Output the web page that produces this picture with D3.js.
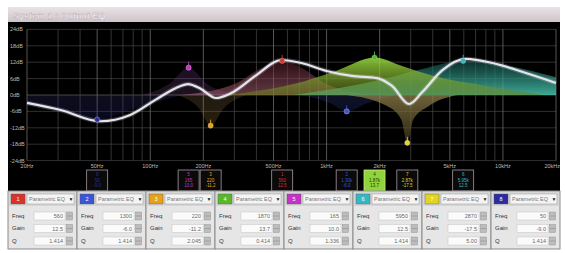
<!DOCTYPE html>
<html>
<head>
<meta charset="utf-8">
<script src="https://cdn.jsdelivr.net/npm/d3@7"></script>
<style>
  body { margin: 0; background: #fff; }
  svg { display: block; font-family: "Liberation Sans", Arial, sans-serif; }
</style>
</head>
<body>
<svg id="chart" width="565" height="253"></svg>
<script>
// ---- data ----
const title = 'System 1 : Output EQ';

const dbTicks = [24, 18, 12, 6, 0, -6, -12, -18, -24];
const freqTicks = [20, 50, 100, 200, 500, 1000, 2000, 5000, 10000, 20000];
const freqTickLabels = ['20Hz', '50Hz', '100Hz', '200Hz', '500Hz', '1kHz', '2kHz', '5kHz', '10kHz', '20kHz'];
const gridFreqs = [20, 30, 40, 50, 60, 70, 80, 90, 100, 200, 300, 400, 500, 600, 700, 800, 900,
  1000, 2000, 3000, 4000, 5000, 6000, 7000, 8000, 9000, 10000, 20000];

// summed response (white line)
const curveFreq = [20, 31, 52, 77, 107, 140, 164, 194, 236, 288, 400, 555, 721, 1000, 1390, 1930, 2350, 2940, 3490, 4540, 6140, 8750, 12980, 20000];
const curveGain = [-2.9, -5.5, -9.6, -7.3, -1.8, 2.6, 4.0, 2.2, -1.1, 0.7, 7.3, 12.8, 11.7, 8.8, 7.0, 6.2, 3.3, -3.3, 1.1, 9.1, 13.2, 11.7, 8.4, 4.4];

// bands, in panel order
const bandNum = ['1', '2', '3', '4', '5', '6', '7', '8'];
const bandColor = ['#d8342a', '#3a55d8', '#e8a21a', '#58b82a', '#c434c4', '#36b8c4', '#e2d420', '#2c2ca0'];
const bandFreq = [560, 1300, 220, 1870, 165, 5950, 2870, 50];
const bandGain = [12.5, -6.0, -11.2, 13.7, 10.0, 12.5, -17.5, -9.0];
const bandQ = ['1.414', '1.414', '2.045', '0.414', '1.336', '1.414', '5.00', '1.414'];

// outline of each band's shaded area [freq, dB]
const shape1 = [[150, 0], [300, 4], [430, 10], [560, 12.5], [720, 10], [1000, 4], [1800, 0]];
const shape2 = [[700, 0], [1050, -3], [1300, -6], [1700, -3], [2500, 0]];
const shape3 = [[140, 0], [190, -5], [220, -11.2], [260, -5], [350, 0]];
const shape4 = [[270, 0], [650, 4], [1150, 9], [1870, 13.7], [2700, 10.5], [4000, 7], [7700, 3.5], [17000, 0]];
const shape5 = [[90, 0], [128, 4], [165, 10], [210, 4], [300, 0]];
const shape6 = [[650, 0], [2000, 5.5], [3500, 9.5], [5950, 12.5], [10000, 11], [20000, 6.5]];
const shape7 = [[1300, 0], [2200, -4], [2650, -9], [2870, -17.5], [3100, -9], [3800, -4], [5500, 0]];
const shape8 = [[20, -3], [34, -6], [50, -9], [80, -5], [150, 0]];

// ---- layout ----
const svg = d3.select('#chart');
const plotL = 27, plotR = 556, plotT = 29.4, plotB = 160.6;

const x = d3.scaleLog().domain([20, 20000]).range([plotL, plotR]);
const y = d3.scaleLinear().domain([-24, 24]).range([plotB, plotT]);

const defs = svg.append('defs');
defs.append('clipPath').attr('id', 'plotclip')
  .append('rect').attr('x', plotL).attr('y', 22).attr('width', plotR - plotL).attr('height', plotB - 22);

// title bar
const tg = defs.append('linearGradient').attr('id', 'titlegrad').attr('x1', 0).attr('y1', 0).attr('x2', 0).attr('y2', 1);
tg.append('stop').attr('offset', 0).attr('stop-color', '#e9e3e6');
tg.append('stop').attr('offset', 1).attr('stop-color', '#cdc4c9');
svg.append('rect').attr('x', 8).attr('y', 7).attr('width', 552).attr('height', 15).attr('fill', 'url(#titlegrad)');
svg.append('text').attr('x', 13).attr('y', 18.5).attr('font-size', 9).attr('font-weight', 'bold')
  .attr('fill', '#fbf7fa').attr('stroke', '#a898a2').attr('stroke-width', 0.3).text(title);

// black display
svg.append('rect').attr('x', 8).attr('y', 22).attr('width', 552).attr('height', 169).attr('fill', '#000');

// grid
svg.append('g').selectAll('line').data(dbTicks).join('line')
  .attr('x1', plotL).attr('x2', plotR)
  .attr('y1', d => y(d)).attr('y2', d => y(d))
  .attr('stroke', d => d === 0 ? '#666' : '#444').attr('stroke-width', 0.7);
svg.append('g').selectAll('line').data(gridFreqs).join('line')
  .attr('x1', d => x(d)).attr('x2', d => x(d))
  .attr('y1', plotT).attr('y2', plotB)
  .attr('stroke', d => freqTicks.includes(d) ? '#7a7a7a' : '#4a4a4a').attr('stroke-width', 0.7);

// axis labels
svg.append('g').selectAll('text').data(dbTicks).join('text')
  .attr('x', 10).attr('y', d => y(d) + 2)
  .attr('font-size', 5.5).attr('fill', '#bbb')
  .text(d => d + 'dB');
svg.append('g').selectAll('text').data(freqTicks).join('text')
  .attr('x', (d, i) => i === freqTicks.length - 1 ? 560 : x(d))
  .attr('y', 168)
  .attr('text-anchor', (d, i) => i === freqTicks.length - 1 ? 'end' : 'middle')
  .attr('font-size', 5.5).attr('fill', '#bbb')
  .text((d, i) => freqTickLabels[i]);

// band fills
const fillStyle = [
  { c1: '#4a1422', c2: '#b06878', o1: 0.6, o2: 0.55 },
  { c1: '#1a2a80', c2: '#4a5ab0', o1: 0.3, o2: 0.2 },
  { c1: '#806020', c2: '#a08050', o1: 0.3, o2: 0.2 },
  { c1: '#9ae040', c2: '#6a7a1c', o1: 0.85, o2: 0.55 },
  { c1: '#6a2a80', c2: '#8a5a90', o1: 0.3, o2: 0.2 },
  { c1: '#14504c', c2: '#48c8b0', o1: 0.6, o2: 0.85 },
  { c1: '#3a3018', c2: '#9a8a50', o1: 0.75, o2: 0.7 },
  { c1: '#1a1a60', c2: '#40408a', o1: 0.3, o2: 0.2 }
];
const shapes = [shape1, shape2, shape3, shape4, shape5, shape6, shape7, shape8];
const drawOrder = [0, 4, 2, 7, 1, 5, 3, 6];

const area = d3.area()
  .x(d => x(d[0])).y0(y(0)).y1(d => y(d[1]))
  .curve(d3.curveMonotoneX);

const fills = svg.append('g').attr('clip-path', 'url(#plotclip)');
drawOrder.forEach(i => {
  const s = fillStyle[i];
  const g = defs.append('linearGradient').attr('id', 'fill' + i)
    .attr('gradientUnits', 'userSpaceOnUse')
    .attr('x1', 0).attr('x2', 0).attr('y1', y(bandGain[i])).attr('y2', y(0));
  g.append('stop').attr('offset', 0).attr('stop-color', s.c1).attr('stop-opacity', s.o1);
  g.append('stop').attr('offset', 1).attr('stop-color', s.c2).attr('stop-opacity', s.o2);
  fills.append('path').datum(shapes[i]).attr('d', area).attr('fill', 'url(#fill' + i + ')');
});

// summed curve
const pts = curveFreq.map((f, i) => [f, curveGain[i]]);
const line = d3.line().x(d => x(d[0])).y(d => y(d[1])).curve(d3.curveMonotoneX);
svg.append('path').datum(pts).attr('d', line)
  .attr('fill', 'none').attr('stroke', '#ffffff').attr('stroke-opacity', 0.2).attr('stroke-width', 4.5);
svg.append('path').datum(pts).attr('d', line)
  .attr('fill', 'none').attr('stroke', '#e4e4ee').attr('stroke-width', 2.2);

// band markers
const mk = svg.append('g');
bandFreq.forEach((f, i) => {
  mk.append('line').attr('x1', x(f)).attr('x2', x(f))
    .attr('y1', y(bandGain[i]) - 6).attr('y2', y(bandGain[i]))
    .attr('stroke', bandColor[i]).attr('stroke-width', 0.9);
  mk.append('circle').attr('cx', x(f)).attr('cy', y(bandGain[i])).attr('r', 2.6)
    .attr('fill', bandColor[i]).attr('stroke', '#ccc').attr('stroke-width', 0.4);
});

// frequency boxes under the graph
const selected = 3;
const fmtF = f => f >= 1000 ? (f / 1000).toFixed(2) + 'k' : f + '';
const boxes = svg.append('g');
bandFreq.forEach((f, i) => {
  const bx = x(f) - 10.5;
  const g = boxes.append('g').attr('transform', `translate(${bx},170)`);
  g.append('rect').attr('width', 21).attr('height', 21)
    .attr('fill', i === selected ? '#8fd43a' : '#0a0a0a')
    .attr('stroke', i === selected ? '#c8f080' : '#a898a2').attr('stroke-width', 0.8);
  const tc = i === selected ? '#1a3a08' : bandColor[i];
  g.append('text').attr('x', 10.5).attr('y', 6).attr('text-anchor', 'middle')
    .attr('font-size', 4.5).attr('fill', tc).text(bandNum[i]);
  g.append('text').attr('x', 10.5).attr('y', 11.5).attr('text-anchor', 'middle')
    .attr('font-size', 4.5).attr('fill', tc).text(fmtF(f));
  g.append('text').attr('x', 10.5).attr('y', 17).attr('text-anchor', 'middle')
    .attr('font-size', 4.5).attr('fill', tc).text(bandGain[i].toFixed(1));
});

// parameter panels
const pw = 69, py = 191, ph = 58;
const panels = svg.append('g');
const rowLabels = ['Freq', 'Gain', 'Q'];
bandFreq.forEach((f, i) => {
  const px = 8 + i * pw;
  const g = panels.append('g').attr('transform', `translate(${px},${py})`);
  g.append('rect').attr('width', pw).attr('height', ph).attr('fill', '#e6e6e6')
    .attr('stroke', '#8a8a8a').attr('stroke-width', 1);
  g.append('rect').attr('x', 1).attr('y', 1).attr('width', pw - 2).attr('height', 14).attr('fill', '#d6d6d6');
  g.append('rect').attr('x', 3).attr('y', 3).attr('width', 14).attr('height', 10)
    .attr('fill', bandColor[i]).attr('stroke', '#555').attr('stroke-width', 0.4);
  g.append('text').attr('x', 10).attr('y', 10).attr('text-anchor', 'middle')
    .attr('font-size', 5.5).attr('fill', '#fff').text(bandNum[i]);
  g.append('rect').attr('x', 19).attr('y', 3).attr('width', 47).attr('height', 10)
    .attr('fill', '#f4f4f4').attr('stroke', '#9a9a9a').attr('stroke-width', 0.5);
  g.append('text').attr('x', 21).attr('y', 10).attr('font-size', 5.5).attr('fill', '#777')
    .text('Parametric EQ');
  g.append('text').attr('x', 63).attr('y', 10).attr('text-anchor', 'middle')
    .attr('font-size', 5).attr('fill', '#222').text('▼');

  const vals = [f + '', bandGain[i].toFixed(1), bandQ[i]];
  rowLabels.forEach((lab, r) => {
    const ry = 21 + r * 12.5;
    g.append('text').attr('x', 4).attr('y', ry + 5.5).attr('font-size', 6).attr('fill', '#333').text(lab);
    g.append('rect').attr('x', 26).attr('y', ry).attr('width', 31).attr('height', 8)
      .attr('fill', '#fbfbfb').attr('stroke', '#c4c4c4').attr('stroke-width', 0.5);
    g.append('text').attr('x', 55).attr('y', ry + 6).attr('text-anchor', 'end')
      .attr('font-size', 5.5).attr('fill', '#666').text(vals[r]);
    g.append('rect').attr('x', 58.5).attr('y', ry).attr('width', 6).attr('height', 8)
      .attr('fill', '#bdbdbd').attr('stroke', '#888').attr('stroke-width', 0.4);
    g.append('line').attr('x1', 58.5).attr('x2', 64.5).attr('y1', ry + 4).attr('y2', ry + 4)
      .attr('stroke', '#777').attr('stroke-width', 0.4);
  });
});
</script>
</body>
</html>
